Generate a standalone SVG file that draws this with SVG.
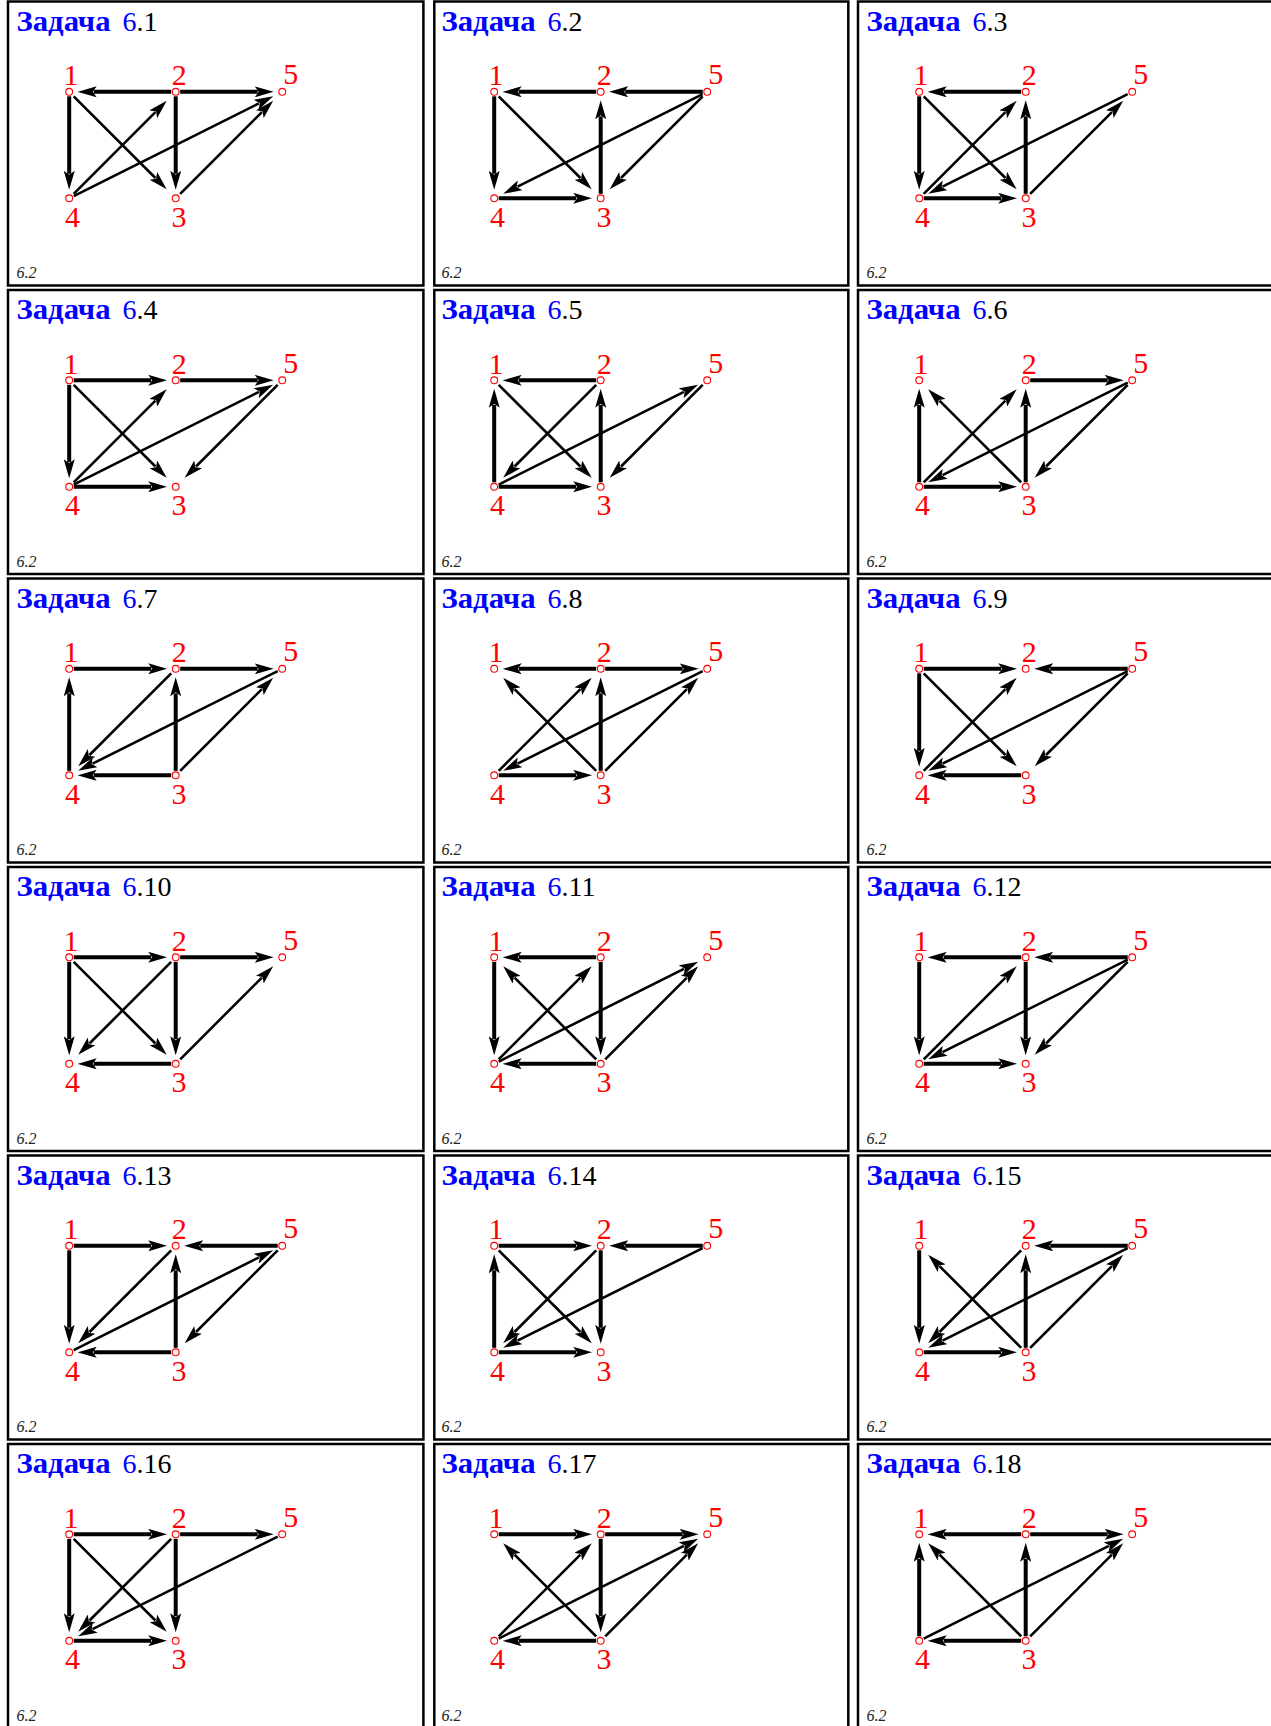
<svg xmlns="http://www.w3.org/2000/svg" width="1271" height="1726" viewBox="0 0 1271 1726">
<style>
.cell{fill:none;stroke:#000;stroke-width:2.5}
.tb{font-family:"Liberation Serif",serif;font-weight:bold;font-size:29px;fill:#0000ff}
.tn{font-family:"Liberation Serif",serif;font-size:28px;fill:#0000ff}
.f{font-family:"Liberation Serif",serif;font-style:italic;font-size:16px;fill:#222}
.e line{stroke:#000;fill:none;marker-end:url(#a)}
.e .h{stroke-width:4}
.e .d{stroke-width:2.6}
.n circle{fill:#fff;stroke:#f00;stroke-width:1.1}
.n text{font-family:"Liberation Serif",serif;font-size:30px;fill:#f00;text-anchor:middle}
</style>
<defs>
<marker id="a" viewBox="0 -5.5 19 11" refX="3" refY="0" markerWidth="19" markerHeight="11" markerUnits="userSpaceOnUse" orient="auto"><path d="M19,0 L0,-5.5 L4,0 L0,5.5 Z" fill="#000"/></marker>
</defs>
<rect width="1271" height="1726" fill="#fff"/>

<g id="task6-1" transform="translate(0,0)">
<rect class="cell" x="8" y="1.5" width="415.4" height="284"/>
<text class="tb" x="16.5" y="30.7" textLength="94" lengthAdjust="spacingAndGlyphs">Задача</text><text class="tn" x="122.5" y="30.7">6<tspan fill="#000">.1</tspan></text>
<text class="f" x="16.5" y="278">6.2</text>
<g class="e" id="task6-1-edges">
<line class="h" x1="171.2" y1="91.8" x2="93.7" y2="91.8"/>
<line class="h" x1="180.2" y1="91.8" x2="257.7" y2="91.8"/>
<line class="h" x1="69.2" y1="96.3" x2="69.2" y2="173.8"/>
<line class="h" x1="175.7" y1="96.3" x2="175.7" y2="173.8"/>
<line class="d" x1="73.7" y1="96.3" x2="155.4" y2="178"/>
<line class="d" x1="73.7" y1="193.8" x2="155.4" y2="112.1"/>
<line class="d" x1="73.7" y1="196.05" x2="258.9" y2="103.45"/>
<line class="d" x1="180.2" y1="193.8" x2="261.9" y2="112.1"/>
</g>
<g class="n" id="task6-1-n1"><circle cx="69.2" cy="91.8" r="3.4"/><text x="71" y="85.3">1</text></g>
<g class="n" id="task6-1-n2"><circle cx="175.7" cy="91.8" r="3.4"/><text x="179.2" y="85.3">2</text></g>
<g class="n" id="task6-1-n5"><circle cx="282.2" cy="91.8" r="3.4"/><text x="290.8" y="84">5</text></g>
<g class="n" id="task6-1-n4"><circle cx="69.2" cy="198.3" r="3.4"/><text x="72.5" y="226.8">4</text></g>
<g class="n" id="task6-1-n3"><circle cx="175.7" cy="198.3" r="3.4"/><text x="179" y="226.8">3</text></g>
</g>

<g id="task6-2" transform="translate(425,0)">
<rect class="cell" x="9.3" y="1.5" width="414" height="284"/>
<text class="tb" x="16.5" y="30.7" textLength="94" lengthAdjust="spacingAndGlyphs">Задача</text><text class="tn" x="122.5" y="30.7">6<tspan fill="#000">.2</tspan></text>
<text class="f" x="16.5" y="278">6.2</text>
<g class="e" id="task6-2-edges">
<line class="h" x1="171.2" y1="91.8" x2="93.7" y2="91.8"/>
<line class="h" x1="277.7" y1="91.8" x2="200.2" y2="91.8"/>
<line class="h" x1="69.2" y1="96.3" x2="69.2" y2="173.8"/>
<line class="h" x1="175.7" y1="193.8" x2="175.7" y2="116.3"/>
<line class="h" x1="73.7" y1="198.3" x2="151.2" y2="198.3"/>
<line class="d" x1="73.7" y1="96.3" x2="155.4" y2="178"/>
<line class="d" x1="277.7" y1="94.05" x2="92.5" y2="186.65"/>
<line class="d" x1="277.7" y1="96.3" x2="196" y2="178"/>
</g>
<g class="n" id="task6-2-n1"><circle cx="69.2" cy="91.8" r="3.4"/><text x="71" y="85.3">1</text></g>
<g class="n" id="task6-2-n2"><circle cx="175.7" cy="91.8" r="3.4"/><text x="179.2" y="85.3">2</text></g>
<g class="n" id="task6-2-n5"><circle cx="282.2" cy="91.8" r="3.4"/><text x="290.8" y="84">5</text></g>
<g class="n" id="task6-2-n4"><circle cx="69.2" cy="198.3" r="3.4"/><text x="72.5" y="226.8">4</text></g>
<g class="n" id="task6-2-n3"><circle cx="175.7" cy="198.3" r="3.4"/><text x="179" y="226.8">3</text></g>
</g>

<g id="task6-3" transform="translate(850,0)">
<rect class="cell" x="8" y="1.5" width="420" height="284"/>
<text class="tb" x="16.5" y="30.7" textLength="94" lengthAdjust="spacingAndGlyphs">Задача</text><text class="tn" x="122.5" y="30.7">6<tspan fill="#000">.3</tspan></text>
<text class="f" x="16.5" y="278">6.2</text>
<g class="e" id="task6-3-edges">
<line class="h" x1="171.2" y1="91.8" x2="93.7" y2="91.8"/>
<line class="h" x1="69.2" y1="96.3" x2="69.2" y2="173.8"/>
<line class="h" x1="73.7" y1="198.3" x2="151.2" y2="198.3"/>
<line class="h" x1="175.7" y1="193.8" x2="175.7" y2="116.3"/>
<line class="d" x1="73.7" y1="96.3" x2="155.4" y2="178"/>
<line class="d" x1="73.7" y1="193.8" x2="155.4" y2="112.1"/>
<line class="d" x1="277.7" y1="94.05" x2="92.5" y2="186.65"/>
<line class="d" x1="180.2" y1="193.8" x2="261.9" y2="112.1"/>
</g>
<g class="n" id="task6-3-n1"><circle cx="69.2" cy="91.8" r="3.4"/><text x="71" y="85.3">1</text></g>
<g class="n" id="task6-3-n2"><circle cx="175.7" cy="91.8" r="3.4"/><text x="179.2" y="85.3">2</text></g>
<g class="n" id="task6-3-n5"><circle cx="282.2" cy="91.8" r="3.4"/><text x="290.8" y="84">5</text></g>
<g class="n" id="task6-3-n4"><circle cx="69.2" cy="198.3" r="3.4"/><text x="72.5" y="226.8">4</text></g>
<g class="n" id="task6-3-n3"><circle cx="175.7" cy="198.3" r="3.4"/><text x="179" y="226.8">3</text></g>
</g>

<g id="task6-4" transform="translate(0,288.5)">
<rect class="cell" x="8" y="1.5" width="415.4" height="284"/>
<text class="tb" x="16.5" y="30.7" textLength="94" lengthAdjust="spacingAndGlyphs">Задача</text><text class="tn" x="122.5" y="30.7">6<tspan fill="#000">.4</tspan></text>
<text class="f" x="16.5" y="278">6.2</text>
<g class="e" id="task6-4-edges">
<line class="h" x1="73.7" y1="91.8" x2="151.2" y2="91.8"/>
<line class="h" x1="180.2" y1="91.8" x2="257.7" y2="91.8"/>
<line class="h" x1="69.2" y1="96.3" x2="69.2" y2="173.8"/>
<line class="h" x1="73.7" y1="198.3" x2="151.2" y2="198.3"/>
<line class="d" x1="73.7" y1="96.3" x2="155.4" y2="178"/>
<line class="d" x1="73.7" y1="193.8" x2="155.4" y2="112.1"/>
<line class="d" x1="73.7" y1="196.05" x2="258.9" y2="103.45"/>
<line class="d" x1="277.7" y1="96.3" x2="196" y2="178"/>
</g>
<g class="n" id="task6-4-n1"><circle cx="69.2" cy="91.8" r="3.4"/><text x="71" y="85.3">1</text></g>
<g class="n" id="task6-4-n2"><circle cx="175.7" cy="91.8" r="3.4"/><text x="179.2" y="85.3">2</text></g>
<g class="n" id="task6-4-n5"><circle cx="282.2" cy="91.8" r="3.4"/><text x="290.8" y="84">5</text></g>
<g class="n" id="task6-4-n4"><circle cx="69.2" cy="198.3" r="3.4"/><text x="72.5" y="226.8">4</text></g>
<g class="n" id="task6-4-n3"><circle cx="175.7" cy="198.3" r="3.4"/><text x="179" y="226.8">3</text></g>
</g>

<g id="task6-5" transform="translate(425,288.5)">
<rect class="cell" x="9.3" y="1.5" width="414" height="284"/>
<text class="tb" x="16.5" y="30.7" textLength="94" lengthAdjust="spacingAndGlyphs">Задача</text><text class="tn" x="122.5" y="30.7">6<tspan fill="#000">.5</tspan></text>
<text class="f" x="16.5" y="278">6.2</text>
<g class="e" id="task6-5-edges">
<line class="h" x1="171.2" y1="91.8" x2="93.7" y2="91.8"/>
<line class="h" x1="69.2" y1="193.8" x2="69.2" y2="116.3"/>
<line class="h" x1="175.7" y1="193.8" x2="175.7" y2="116.3"/>
<line class="h" x1="73.7" y1="198.3" x2="151.2" y2="198.3"/>
<line class="d" x1="73.7" y1="96.3" x2="155.4" y2="178"/>
<line class="d" x1="171.2" y1="96.3" x2="89.5" y2="178"/>
<line class="d" x1="73.7" y1="196.05" x2="258.9" y2="103.45"/>
<line class="d" x1="277.7" y1="96.3" x2="196" y2="178"/>
</g>
<g class="n" id="task6-5-n1"><circle cx="69.2" cy="91.8" r="3.4"/><text x="71" y="85.3">1</text></g>
<g class="n" id="task6-5-n2"><circle cx="175.7" cy="91.8" r="3.4"/><text x="179.2" y="85.3">2</text></g>
<g class="n" id="task6-5-n5"><circle cx="282.2" cy="91.8" r="3.4"/><text x="290.8" y="84">5</text></g>
<g class="n" id="task6-5-n4"><circle cx="69.2" cy="198.3" r="3.4"/><text x="72.5" y="226.8">4</text></g>
<g class="n" id="task6-5-n3"><circle cx="175.7" cy="198.3" r="3.4"/><text x="179" y="226.8">3</text></g>
</g>

<g id="task6-6" transform="translate(850,288.5)">
<rect class="cell" x="8" y="1.5" width="420" height="284"/>
<text class="tb" x="16.5" y="30.7" textLength="94" lengthAdjust="spacingAndGlyphs">Задача</text><text class="tn" x="122.5" y="30.7">6<tspan fill="#000">.6</tspan></text>
<text class="f" x="16.5" y="278">6.2</text>
<g class="e" id="task6-6-edges">
<line class="h" x1="69.2" y1="193.8" x2="69.2" y2="116.3"/>
<line class="h" x1="180.2" y1="91.8" x2="257.7" y2="91.8"/>
<line class="h" x1="175.7" y1="193.8" x2="175.7" y2="116.3"/>
<line class="h" x1="73.7" y1="198.3" x2="151.2" y2="198.3"/>
<line class="d" x1="171.2" y1="193.8" x2="89.5" y2="112.1"/>
<line class="d" x1="73.7" y1="193.8" x2="155.4" y2="112.1"/>
<line class="d" x1="277.7" y1="94.05" x2="92.5" y2="186.65"/>
<line class="d" x1="277.7" y1="96.3" x2="196" y2="178"/>
</g>
<g class="n" id="task6-6-n1"><circle cx="69.2" cy="91.8" r="3.4"/><text x="71" y="85.3">1</text></g>
<g class="n" id="task6-6-n2"><circle cx="175.7" cy="91.8" r="3.4"/><text x="179.2" y="85.3">2</text></g>
<g class="n" id="task6-6-n5"><circle cx="282.2" cy="91.8" r="3.4"/><text x="290.8" y="84">5</text></g>
<g class="n" id="task6-6-n4"><circle cx="69.2" cy="198.3" r="3.4"/><text x="72.5" y="226.8">4</text></g>
<g class="n" id="task6-6-n3"><circle cx="175.7" cy="198.3" r="3.4"/><text x="179" y="226.8">3</text></g>
</g>

<g id="task6-7" transform="translate(0,577)">
<rect class="cell" x="8" y="1.5" width="415.4" height="284"/>
<text class="tb" x="16.5" y="30.7" textLength="94" lengthAdjust="spacingAndGlyphs">Задача</text><text class="tn" x="122.5" y="30.7">6<tspan fill="#000">.7</tspan></text>
<text class="f" x="16.5" y="278">6.2</text>
<g class="e" id="task6-7-edges">
<line class="h" x1="73.7" y1="91.8" x2="151.2" y2="91.8"/>
<line class="h" x1="180.2" y1="91.8" x2="257.7" y2="91.8"/>
<line class="h" x1="69.2" y1="193.8" x2="69.2" y2="116.3"/>
<line class="h" x1="171.2" y1="198.3" x2="93.7" y2="198.3"/>
<line class="h" x1="175.7" y1="193.8" x2="175.7" y2="116.3"/>
<line class="d" x1="171.2" y1="96.3" x2="89.5" y2="178"/>
<line class="d" x1="277.7" y1="94.05" x2="92.5" y2="186.65"/>
<line class="d" x1="180.2" y1="193.8" x2="261.9" y2="112.1"/>
</g>
<g class="n" id="task6-7-n1"><circle cx="69.2" cy="91.8" r="3.4"/><text x="71" y="85.3">1</text></g>
<g class="n" id="task6-7-n2"><circle cx="175.7" cy="91.8" r="3.4"/><text x="179.2" y="85.3">2</text></g>
<g class="n" id="task6-7-n5"><circle cx="282.2" cy="91.8" r="3.4"/><text x="290.8" y="84">5</text></g>
<g class="n" id="task6-7-n4"><circle cx="69.2" cy="198.3" r="3.4"/><text x="72.5" y="226.8">4</text></g>
<g class="n" id="task6-7-n3"><circle cx="175.7" cy="198.3" r="3.4"/><text x="179" y="226.8">3</text></g>
</g>

<g id="task6-8" transform="translate(425,577)">
<rect class="cell" x="9.3" y="1.5" width="414" height="284"/>
<text class="tb" x="16.5" y="30.7" textLength="94" lengthAdjust="spacingAndGlyphs">Задача</text><text class="tn" x="122.5" y="30.7">6<tspan fill="#000">.8</tspan></text>
<text class="f" x="16.5" y="278">6.2</text>
<g class="e" id="task6-8-edges">
<line class="h" x1="171.2" y1="91.8" x2="93.7" y2="91.8"/>
<line class="h" x1="180.2" y1="91.8" x2="257.7" y2="91.8"/>
<line class="h" x1="175.7" y1="193.8" x2="175.7" y2="116.3"/>
<line class="h" x1="73.7" y1="198.3" x2="151.2" y2="198.3"/>
<line class="d" x1="171.2" y1="193.8" x2="89.5" y2="112.1"/>
<line class="d" x1="73.7" y1="193.8" x2="155.4" y2="112.1"/>
<line class="d" x1="277.7" y1="94.05" x2="92.5" y2="186.65"/>
<line class="d" x1="180.2" y1="193.8" x2="261.9" y2="112.1"/>
</g>
<g class="n" id="task6-8-n1"><circle cx="69.2" cy="91.8" r="3.4"/><text x="71" y="85.3">1</text></g>
<g class="n" id="task6-8-n2"><circle cx="175.7" cy="91.8" r="3.4"/><text x="179.2" y="85.3">2</text></g>
<g class="n" id="task6-8-n5"><circle cx="282.2" cy="91.8" r="3.4"/><text x="290.8" y="84">5</text></g>
<g class="n" id="task6-8-n4"><circle cx="69.2" cy="198.3" r="3.4"/><text x="72.5" y="226.8">4</text></g>
<g class="n" id="task6-8-n3"><circle cx="175.7" cy="198.3" r="3.4"/><text x="179" y="226.8">3</text></g>
</g>

<g id="task6-9" transform="translate(850,577)">
<rect class="cell" x="8" y="1.5" width="420" height="284"/>
<text class="tb" x="16.5" y="30.7" textLength="94" lengthAdjust="spacingAndGlyphs">Задача</text><text class="tn" x="122.5" y="30.7">6<tspan fill="#000">.9</tspan></text>
<text class="f" x="16.5" y="278">6.2</text>
<g class="e" id="task6-9-edges">
<line class="h" x1="73.7" y1="91.8" x2="151.2" y2="91.8"/>
<line class="h" x1="277.7" y1="91.8" x2="200.2" y2="91.8"/>
<line class="h" x1="69.2" y1="96.3" x2="69.2" y2="173.8"/>
<line class="h" x1="171.2" y1="198.3" x2="93.7" y2="198.3"/>
<line class="d" x1="73.7" y1="96.3" x2="155.4" y2="178"/>
<line class="d" x1="73.7" y1="193.8" x2="155.4" y2="112.1"/>
<line class="d" x1="277.7" y1="94.05" x2="92.5" y2="186.65"/>
<line class="d" x1="277.7" y1="96.3" x2="196" y2="178"/>
</g>
<g class="n" id="task6-9-n1"><circle cx="69.2" cy="91.8" r="3.4"/><text x="71" y="85.3">1</text></g>
<g class="n" id="task6-9-n2"><circle cx="175.7" cy="91.8" r="3.4"/><text x="179.2" y="85.3">2</text></g>
<g class="n" id="task6-9-n5"><circle cx="282.2" cy="91.8" r="3.4"/><text x="290.8" y="84">5</text></g>
<g class="n" id="task6-9-n4"><circle cx="69.2" cy="198.3" r="3.4"/><text x="72.5" y="226.8">4</text></g>
<g class="n" id="task6-9-n3"><circle cx="175.7" cy="198.3" r="3.4"/><text x="179" y="226.8">3</text></g>
</g>

<g id="task6-10" transform="translate(0,865.5)">
<rect class="cell" x="8" y="1.5" width="415.4" height="284"/>
<text class="tb" x="16.5" y="30.7" textLength="94" lengthAdjust="spacingAndGlyphs">Задача</text><text class="tn" x="122.5" y="30.7">6<tspan fill="#000">.10</tspan></text>
<text class="f" x="16.5" y="278">6.2</text>
<g class="e" id="task6-10-edges">
<line class="h" x1="73.7" y1="91.8" x2="151.2" y2="91.8"/>
<line class="h" x1="180.2" y1="91.8" x2="257.7" y2="91.8"/>
<line class="h" x1="69.2" y1="96.3" x2="69.2" y2="173.8"/>
<line class="h" x1="175.7" y1="96.3" x2="175.7" y2="173.8"/>
<line class="h" x1="171.2" y1="198.3" x2="93.7" y2="198.3"/>
<line class="d" x1="73.7" y1="96.3" x2="155.4" y2="178"/>
<line class="d" x1="171.2" y1="96.3" x2="89.5" y2="178"/>
<line class="d" x1="180.2" y1="193.8" x2="261.9" y2="112.1"/>
</g>
<g class="n" id="task6-10-n1"><circle cx="69.2" cy="91.8" r="3.4"/><text x="71" y="85.3">1</text></g>
<g class="n" id="task6-10-n2"><circle cx="175.7" cy="91.8" r="3.4"/><text x="179.2" y="85.3">2</text></g>
<g class="n" id="task6-10-n5"><circle cx="282.2" cy="91.8" r="3.4"/><text x="290.8" y="84">5</text></g>
<g class="n" id="task6-10-n4"><circle cx="69.2" cy="198.3" r="3.4"/><text x="72.5" y="226.8">4</text></g>
<g class="n" id="task6-10-n3"><circle cx="175.7" cy="198.3" r="3.4"/><text x="179" y="226.8">3</text></g>
</g>

<g id="task6-11" transform="translate(425,865.5)">
<rect class="cell" x="9.3" y="1.5" width="414" height="284"/>
<text class="tb" x="16.5" y="30.7" textLength="94" lengthAdjust="spacingAndGlyphs">Задача</text><text class="tn" x="122.5" y="30.7">6<tspan fill="#000">.11</tspan></text>
<text class="f" x="16.5" y="278">6.2</text>
<g class="e" id="task6-11-edges">
<line class="h" x1="171.2" y1="91.8" x2="93.7" y2="91.8"/>
<line class="h" x1="69.2" y1="96.3" x2="69.2" y2="173.8"/>
<line class="h" x1="175.7" y1="96.3" x2="175.7" y2="173.8"/>
<line class="h" x1="171.2" y1="198.3" x2="93.7" y2="198.3"/>
<line class="d" x1="171.2" y1="193.8" x2="89.5" y2="112.1"/>
<line class="d" x1="73.7" y1="193.8" x2="155.4" y2="112.1"/>
<line class="d" x1="73.7" y1="196.05" x2="258.9" y2="103.45"/>
<line class="d" x1="180.2" y1="193.8" x2="261.9" y2="112.1"/>
</g>
<g class="n" id="task6-11-n1"><circle cx="69.2" cy="91.8" r="3.4"/><text x="71" y="85.3">1</text></g>
<g class="n" id="task6-11-n2"><circle cx="175.7" cy="91.8" r="3.4"/><text x="179.2" y="85.3">2</text></g>
<g class="n" id="task6-11-n5"><circle cx="282.2" cy="91.8" r="3.4"/><text x="290.8" y="84">5</text></g>
<g class="n" id="task6-11-n4"><circle cx="69.2" cy="198.3" r="3.4"/><text x="72.5" y="226.8">4</text></g>
<g class="n" id="task6-11-n3"><circle cx="175.7" cy="198.3" r="3.4"/><text x="179" y="226.8">3</text></g>
</g>

<g id="task6-12" transform="translate(850,865.5)">
<rect class="cell" x="8" y="1.5" width="420" height="284"/>
<text class="tb" x="16.5" y="30.7" textLength="94" lengthAdjust="spacingAndGlyphs">Задача</text><text class="tn" x="122.5" y="30.7">6<tspan fill="#000">.12</tspan></text>
<text class="f" x="16.5" y="278">6.2</text>
<g class="e" id="task6-12-edges">
<line class="h" x1="171.2" y1="91.8" x2="93.7" y2="91.8"/>
<line class="h" x1="277.7" y1="91.8" x2="200.2" y2="91.8"/>
<line class="h" x1="69.2" y1="96.3" x2="69.2" y2="173.8"/>
<line class="h" x1="175.7" y1="96.3" x2="175.7" y2="173.8"/>
<line class="h" x1="73.7" y1="198.3" x2="151.2" y2="198.3"/>
<line class="d" x1="73.7" y1="193.8" x2="155.4" y2="112.1"/>
<line class="d" x1="277.7" y1="94.05" x2="92.5" y2="186.65"/>
<line class="d" x1="277.7" y1="96.3" x2="196" y2="178"/>
</g>
<g class="n" id="task6-12-n1"><circle cx="69.2" cy="91.8" r="3.4"/><text x="71" y="85.3">1</text></g>
<g class="n" id="task6-12-n2"><circle cx="175.7" cy="91.8" r="3.4"/><text x="179.2" y="85.3">2</text></g>
<g class="n" id="task6-12-n5"><circle cx="282.2" cy="91.8" r="3.4"/><text x="290.8" y="84">5</text></g>
<g class="n" id="task6-12-n4"><circle cx="69.2" cy="198.3" r="3.4"/><text x="72.5" y="226.8">4</text></g>
<g class="n" id="task6-12-n3"><circle cx="175.7" cy="198.3" r="3.4"/><text x="179" y="226.8">3</text></g>
</g>

<g id="task6-13" transform="translate(0,1154)">
<rect class="cell" x="8" y="1.5" width="415.4" height="284"/>
<text class="tb" x="16.5" y="30.7" textLength="94" lengthAdjust="spacingAndGlyphs">Задача</text><text class="tn" x="122.5" y="30.7">6<tspan fill="#000">.13</tspan></text>
<text class="f" x="16.5" y="278">6.2</text>
<g class="e" id="task6-13-edges">
<line class="h" x1="73.7" y1="91.8" x2="151.2" y2="91.8"/>
<line class="h" x1="277.7" y1="91.8" x2="200.2" y2="91.8"/>
<line class="h" x1="69.2" y1="96.3" x2="69.2" y2="173.8"/>
<line class="h" x1="175.7" y1="193.8" x2="175.7" y2="116.3"/>
<line class="h" x1="171.2" y1="198.3" x2="93.7" y2="198.3"/>
<line class="d" x1="171.2" y1="96.3" x2="89.5" y2="178"/>
<line class="d" x1="73.7" y1="196.05" x2="258.9" y2="103.45"/>
<line class="d" x1="277.7" y1="96.3" x2="196" y2="178"/>
</g>
<g class="n" id="task6-13-n1"><circle cx="69.2" cy="91.8" r="3.4"/><text x="71" y="85.3">1</text></g>
<g class="n" id="task6-13-n2"><circle cx="175.7" cy="91.8" r="3.4"/><text x="179.2" y="85.3">2</text></g>
<g class="n" id="task6-13-n5"><circle cx="282.2" cy="91.8" r="3.4"/><text x="290.8" y="84">5</text></g>
<g class="n" id="task6-13-n4"><circle cx="69.2" cy="198.3" r="3.4"/><text x="72.5" y="226.8">4</text></g>
<g class="n" id="task6-13-n3"><circle cx="175.7" cy="198.3" r="3.4"/><text x="179" y="226.8">3</text></g>
</g>

<g id="task6-14" transform="translate(425,1154)">
<rect class="cell" x="9.3" y="1.5" width="414" height="284"/>
<text class="tb" x="16.5" y="30.7" textLength="94" lengthAdjust="spacingAndGlyphs">Задача</text><text class="tn" x="122.5" y="30.7">6<tspan fill="#000">.14</tspan></text>
<text class="f" x="16.5" y="278">6.2</text>
<g class="e" id="task6-14-edges">
<line class="h" x1="73.7" y1="91.8" x2="151.2" y2="91.8"/>
<line class="h" x1="277.7" y1="91.8" x2="200.2" y2="91.8"/>
<line class="h" x1="69.2" y1="193.8" x2="69.2" y2="116.3"/>
<line class="h" x1="175.7" y1="96.3" x2="175.7" y2="173.8"/>
<line class="h" x1="73.7" y1="198.3" x2="151.2" y2="198.3"/>
<line class="d" x1="73.7" y1="96.3" x2="155.4" y2="178"/>
<line class="d" x1="171.2" y1="96.3" x2="89.5" y2="178"/>
<line class="d" x1="277.7" y1="94.05" x2="92.5" y2="186.65"/>
</g>
<g class="n" id="task6-14-n1"><circle cx="69.2" cy="91.8" r="3.4"/><text x="71" y="85.3">1</text></g>
<g class="n" id="task6-14-n2"><circle cx="175.7" cy="91.8" r="3.4"/><text x="179.2" y="85.3">2</text></g>
<g class="n" id="task6-14-n5"><circle cx="282.2" cy="91.8" r="3.4"/><text x="290.8" y="84">5</text></g>
<g class="n" id="task6-14-n4"><circle cx="69.2" cy="198.3" r="3.4"/><text x="72.5" y="226.8">4</text></g>
<g class="n" id="task6-14-n3"><circle cx="175.7" cy="198.3" r="3.4"/><text x="179" y="226.8">3</text></g>
</g>

<g id="task6-15" transform="translate(850,1154)">
<rect class="cell" x="8" y="1.5" width="420" height="284"/>
<text class="tb" x="16.5" y="30.7" textLength="94" lengthAdjust="spacingAndGlyphs">Задача</text><text class="tn" x="122.5" y="30.7">6<tspan fill="#000">.15</tspan></text>
<text class="f" x="16.5" y="278">6.2</text>
<g class="e" id="task6-15-edges">
<line class="h" x1="69.2" y1="96.3" x2="69.2" y2="173.8"/>
<line class="h" x1="277.7" y1="91.8" x2="200.2" y2="91.8"/>
<line class="h" x1="175.7" y1="193.8" x2="175.7" y2="116.3"/>
<line class="h" x1="73.7" y1="198.3" x2="151.2" y2="198.3"/>
<line class="d" x1="171.2" y1="193.8" x2="89.5" y2="112.1"/>
<line class="d" x1="171.2" y1="96.3" x2="89.5" y2="178"/>
<line class="d" x1="277.7" y1="94.05" x2="92.5" y2="186.65"/>
<line class="d" x1="180.2" y1="193.8" x2="261.9" y2="112.1"/>
</g>
<g class="n" id="task6-15-n1"><circle cx="69.2" cy="91.8" r="3.4"/><text x="71" y="85.3">1</text></g>
<g class="n" id="task6-15-n2"><circle cx="175.7" cy="91.8" r="3.4"/><text x="179.2" y="85.3">2</text></g>
<g class="n" id="task6-15-n5"><circle cx="282.2" cy="91.8" r="3.4"/><text x="290.8" y="84">5</text></g>
<g class="n" id="task6-15-n4"><circle cx="69.2" cy="198.3" r="3.4"/><text x="72.5" y="226.8">4</text></g>
<g class="n" id="task6-15-n3"><circle cx="175.7" cy="198.3" r="3.4"/><text x="179" y="226.8">3</text></g>
</g>

<g id="task6-16" transform="translate(0,1442.5)">
<rect class="cell" x="8" y="1.5" width="415.4" height="290"/>
<text class="tb" x="16.5" y="30.7" textLength="94" lengthAdjust="spacingAndGlyphs">Задача</text><text class="tn" x="122.5" y="30.7">6<tspan fill="#000">.16</tspan></text>
<text class="f" x="16.5" y="278">6.2</text>
<g class="e" id="task6-16-edges">
<line class="h" x1="73.7" y1="91.8" x2="151.2" y2="91.8"/>
<line class="h" x1="180.2" y1="91.8" x2="257.7" y2="91.8"/>
<line class="h" x1="69.2" y1="96.3" x2="69.2" y2="173.8"/>
<line class="h" x1="175.7" y1="96.3" x2="175.7" y2="173.8"/>
<line class="h" x1="73.7" y1="198.3" x2="151.2" y2="198.3"/>
<line class="d" x1="73.7" y1="96.3" x2="155.4" y2="178"/>
<line class="d" x1="171.2" y1="96.3" x2="89.5" y2="178"/>
<line class="d" x1="277.7" y1="94.05" x2="92.5" y2="186.65"/>
</g>
<g class="n" id="task6-16-n1"><circle cx="69.2" cy="91.8" r="3.4"/><text x="71" y="85.3">1</text></g>
<g class="n" id="task6-16-n2"><circle cx="175.7" cy="91.8" r="3.4"/><text x="179.2" y="85.3">2</text></g>
<g class="n" id="task6-16-n5"><circle cx="282.2" cy="91.8" r="3.4"/><text x="290.8" y="84">5</text></g>
<g class="n" id="task6-16-n4"><circle cx="69.2" cy="198.3" r="3.4"/><text x="72.5" y="226.8">4</text></g>
<g class="n" id="task6-16-n3"><circle cx="175.7" cy="198.3" r="3.4"/><text x="179" y="226.8">3</text></g>
</g>

<g id="task6-17" transform="translate(425,1442.5)">
<rect class="cell" x="9.3" y="1.5" width="414" height="290"/>
<text class="tb" x="16.5" y="30.7" textLength="94" lengthAdjust="spacingAndGlyphs">Задача</text><text class="tn" x="122.5" y="30.7">6<tspan fill="#000">.17</tspan></text>
<text class="f" x="16.5" y="278">6.2</text>
<g class="e" id="task6-17-edges">
<line class="h" x1="73.7" y1="91.8" x2="151.2" y2="91.8"/>
<line class="h" x1="180.2" y1="91.8" x2="257.7" y2="91.8"/>
<line class="h" x1="175.7" y1="96.3" x2="175.7" y2="173.8"/>
<line class="h" x1="171.2" y1="198.3" x2="93.7" y2="198.3"/>
<line class="d" x1="171.2" y1="193.8" x2="89.5" y2="112.1"/>
<line class="d" x1="73.7" y1="193.8" x2="155.4" y2="112.1"/>
<line class="d" x1="73.7" y1="196.05" x2="258.9" y2="103.45"/>
<line class="d" x1="180.2" y1="193.8" x2="261.9" y2="112.1"/>
</g>
<g class="n" id="task6-17-n1"><circle cx="69.2" cy="91.8" r="3.4"/><text x="71" y="85.3">1</text></g>
<g class="n" id="task6-17-n2"><circle cx="175.7" cy="91.8" r="3.4"/><text x="179.2" y="85.3">2</text></g>
<g class="n" id="task6-17-n5"><circle cx="282.2" cy="91.8" r="3.4"/><text x="290.8" y="84">5</text></g>
<g class="n" id="task6-17-n4"><circle cx="69.2" cy="198.3" r="3.4"/><text x="72.5" y="226.8">4</text></g>
<g class="n" id="task6-17-n3"><circle cx="175.7" cy="198.3" r="3.4"/><text x="179" y="226.8">3</text></g>
</g>

<g id="task6-18" transform="translate(850,1442.5)">
<rect class="cell" x="8" y="1.5" width="420" height="290"/>
<text class="tb" x="16.5" y="30.7" textLength="94" lengthAdjust="spacingAndGlyphs">Задача</text><text class="tn" x="122.5" y="30.7">6<tspan fill="#000">.18</tspan></text>
<text class="f" x="16.5" y="278">6.2</text>
<g class="e" id="task6-18-edges">
<line class="h" x1="171.2" y1="91.8" x2="93.7" y2="91.8"/>
<line class="h" x1="180.2" y1="91.8" x2="257.7" y2="91.8"/>
<line class="h" x1="69.2" y1="193.8" x2="69.2" y2="116.3"/>
<line class="h" x1="175.7" y1="193.8" x2="175.7" y2="116.3"/>
<line class="h" x1="171.2" y1="198.3" x2="93.7" y2="198.3"/>
<line class="d" x1="171.2" y1="193.8" x2="89.5" y2="112.1"/>
<line class="d" x1="73.7" y1="196.05" x2="258.9" y2="103.45"/>
<line class="d" x1="180.2" y1="193.8" x2="261.9" y2="112.1"/>
</g>
<g class="n" id="task6-18-n1"><circle cx="69.2" cy="91.8" r="3.4"/><text x="71" y="85.3">1</text></g>
<g class="n" id="task6-18-n2"><circle cx="175.7" cy="91.8" r="3.4"/><text x="179.2" y="85.3">2</text></g>
<g class="n" id="task6-18-n5"><circle cx="282.2" cy="91.8" r="3.4"/><text x="290.8" y="84">5</text></g>
<g class="n" id="task6-18-n4"><circle cx="69.2" cy="198.3" r="3.4"/><text x="72.5" y="226.8">4</text></g>
<g class="n" id="task6-18-n3"><circle cx="175.7" cy="198.3" r="3.4"/><text x="179" y="226.8">3</text></g>
</g>
</svg>
